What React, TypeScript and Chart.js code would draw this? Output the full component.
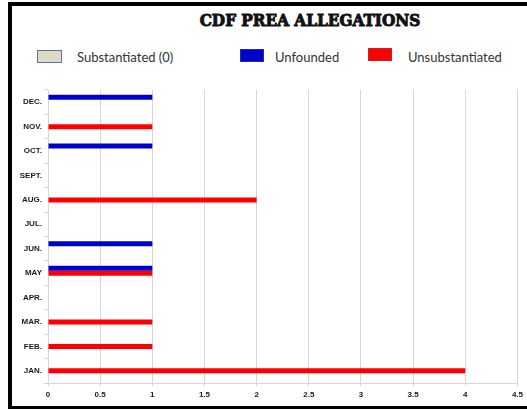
import React, { useEffect, useRef } from "react";
import { Chart, registerables } from "chart.js";

Chart.register(...registerables);

const months = ["DEC.", "NOV.", "OCT.", "SEPT.", "AUG.", "JUL.", "JUN.", "MAY", "APR.", "MAR.", "FEB.", "JAN."];
const unfounded = [1, 0, 1, 0, 0, 0, 1, 1, 0, 0, 0, 0];
const unsubstantiated = [0, 1, 0, 0, 2, 0, 0, 1, 0, 1, 1, 4];
const substantiated = [0, 0, 0, 0, 0, 0, 0, 0, 0, 0, 0, 0];
const xTicks = [0, 0.5, 1, 1.5, 2, 2.5, 3, 3.5, 4, 4.5];

const title = "CDF PREA ALLEGATIONS";
const legendItems = [
  { label: "Substantiated (0)", fill: "#DDD9C3", border: "#5575A8", box: [37, 50, 25, 13], text: 77 },
  { label: "Unfounded", fill: "#0000CC", border: "#1F2FA0", box: [240, 49, 24, 13], text: 275 },
  { label: "Unsubstantiated", fill: "#FF0000", border: "#C0282E", box: [368, 48, 24, 13], text: 408 },
];

const tickFont = { family: "Arial, 'Liberation Sans', sans-serif", size: 8, weight: "bold" as const };
const gridColor = "#d6d6d6";

export default function App() {
  const ref = useRef<HTMLCanvasElement | null>(null);

  useEffect(() => {
    if (!ref.current) return;
    const chart = new Chart(ref.current, {
      type: "bar",
      data: {
        labels: months,
        datasets: [
          { label: "Unfounded", data: unfounded, backgroundColor: "#0000CC", borderWidth: 0, barThickness: 5, inflateAmount: 0 },
          { label: "Unsubstantiated", data: unsubstantiated, backgroundColor: "#FF0000", borderWidth: 0, barThickness: 5, inflateAmount: 0 },
          { label: "Substantiated (0)", data: substantiated, backgroundColor: "#DDD9C3", borderWidth: 0, barThickness: 5, inflateAmount: 0 },
        ],
      },
      options: {
        indexAxis: "y",
        animation: false,
        responsive: false,
        layout: { padding: { top: 10, right: 8, left: 0, bottom: 0 } },
        plugins: { legend: { display: false }, title: { display: false }, tooltip: { enabled: false } },
        scales: {
          x: {
            min: 0,
            max: 4.5,
            afterBuildTicks: (scale: any) => {
              scale.ticks = xTicks.map((v) => ({ value: v }));
            },
            afterFit: (scale: any) => {
              scale.height = 23;
            },
            grid: { color: gridColor, lineWidth: 1, tickLength: 3, drawTicks: true },
            border: { color: gridColor, width: 1 },
            ticks: {
              font: tickFont,
              color: "#1a1a1a",
              padding: 4,
              maxRotation: 0,
              autoSkip: false,
              callback: (v: any) => String(Number(v)),
            },
          },
          y: {
            afterFit: (scale: any) => {
              scale.width = 36;
            },
            grid: { drawOnChartArea: false, drawTicks: true, tickLength: 4, color: gridColor, offset: true },
            border: { color: gridColor, width: 1 },
            ticks: { font: tickFont, color: "#1a1a1a", padding: 2, autoSkip: false },
          },
        },
      },
    });
    return () => chart.destroy();
  }, []);

  return (
    <div style={{ position: "fixed", left: 0, top: 0, width: 527, height: 410, overflow: "hidden", background: "#fff" }}>
      <div
        style={{
          position: "absolute",
          left: 8,
          top: 2,
          width: 600,
          height: 407,
          boxSizing: "border-box",
          borderLeft: "4px solid #000",
          borderTop: "4px solid #000",
          borderBottom: "3px solid #000",
        }}
      />
      <div
        style={{
          position: "absolute",
          left: 0,
          width: 620,
          top: 9,
          textAlign: "center",
          fontFamily: "'DejaVu Serif Condensed', 'DejaVu Serif', serif",
          fontStretch: "condensed",
          fontWeight: 900,
          fontSize: 17,
          lineHeight: "22px",
          color: "#111",
          WebkitTextStroke: "0.9px #111",
          whiteSpace: "nowrap",
        }}
      >
        {title}
      </div>
      {legendItems.map((it) => (
        <React.Fragment key={it.label}>
          <div
            style={{
              position: "absolute",
              left: it.box[0],
              top: it.box[1],
              width: it.box[2],
              height: it.box[3],
              background: it.fill,
              border: `1.5px solid ${it.border}`,
              boxSizing: "border-box",
            }}
          />
          <div
            style={{
              position: "absolute",
              left: it.text,
              top: 48,
              lineHeight: "18px",
              fontFamily: "Lato, 'Open Sans', sans-serif",
              fontSize: 13,
              color: "#333",
              whiteSpace: "nowrap",
            }}
          >
            {it.label}
          </div>
        </React.Fragment>
      ))}
      <canvas ref={ref} width={515} height={326} style={{ position: "absolute", left: 12, top: 80 }} />
    </div>
  );
}
